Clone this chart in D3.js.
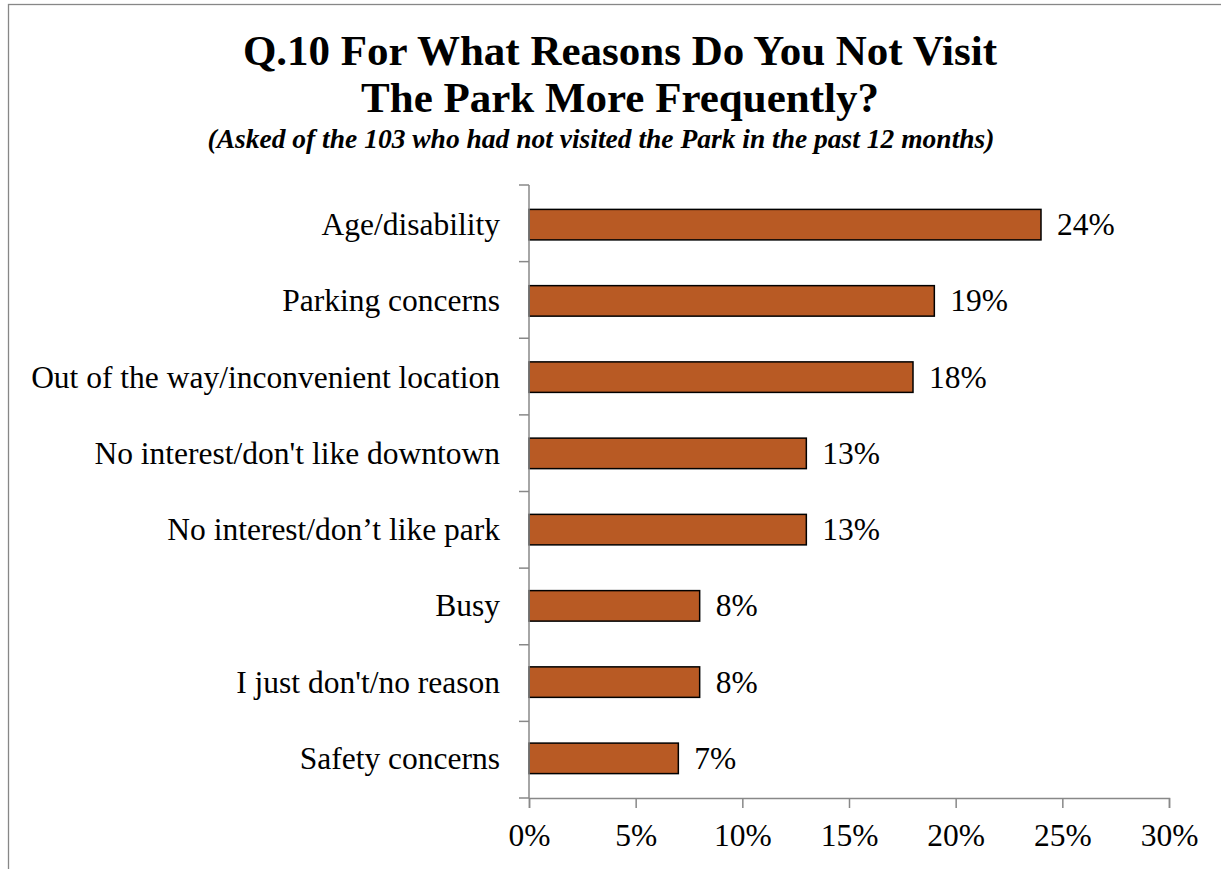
<!DOCTYPE html>
<html><head><meta charset="utf-8">
<script src="https://cdn.jsdelivr.net/npm/d3@7"></script>
<style>body{margin:0;background:#fff}svg{display:block}</style>
</head><body><svg id="c" width="1221" height="869"></svg>
<script>
const categories = ["Age/disability","Parking concerns","Out of the way/inconvenient location","No interest/don't like downtown","No interest/don\u2019t like park","Busy","I just don't/no reason","Safety concerns"];
const values = [24,19,18,13,13,8,8,7];
const xTicks = [0,5,10,15,20,25,30];
const titleLines = ["Q.10 For What Reasons Do You Not Visit","The Park More Frequently?"];
const subtitle = "(Asked of the 103 who had not visited the Park in the past 12 months)";

const svg = d3.select("#c");
const font = "'Liberation Serif','Times New Roman',serif";
svg.append("rect").attr("x",8.5).attr("y",4.5).attr("width",1230).attr("height",900)
  .attr("fill","#fff").attr("stroke","#878787").attr("stroke-width",1.3);

const x = d3.scaleLinear().domain([0,30]).range([529,1169]);
const y = d3.scaleBand().domain(categories).range([185,798]).paddingInner(0.6).paddingOuter(0.32);

svg.selectAll("text.t").data(titleLines).join("text").attr("class","t")
  .attr("x",620).attr("y",(d,i)=>65+i*47).attr("text-anchor","middle")
  .attr("font-family",font).attr("font-weight","bold").attr("font-size",43).text(d=>d);
svg.append("text").attr("x",601).attr("y",148).attr("text-anchor","middle")
  .attr("font-family",font).attr("font-weight","bold").attr("font-style","italic").attr("font-size",27.5).text(subtitle);

// bars
svg.selectAll("rect.bar").data(values).join("rect").attr("class","bar")
  .attr("x",x(0)).attr("y",(d,i)=>y(categories[i])).attr("width",d=>x(d)-x(0)).attr("height",y.bandwidth())
  .attr("fill","#B85A24").attr("stroke","#000").attr("stroke-width",1.5);
svg.selectAll("text.v").data(values).join("text").attr("class","v")
  .attr("x",d=>x(d)+16).attr("y",(d,i)=>y(categories[i])+y.bandwidth()/2+10.5)
  .attr("font-family",font).attr("font-size",31.5).text(d=>d+"%");

// y axis
const yStep = (798-185)/categories.length;
const ya = svg.append("g");
ya.append("line").attr("x1",529).attr("x2",529).attr("y1",185).attr("y2",798).attr("stroke","#888").attr("stroke-width",1.5);
ya.selectAll("line.tk").data(d3.range(categories.length+1)).join("line").attr("class","tk")
  .attr("x1",519).attr("x2",529).attr("y1",i=>185+i*yStep).attr("y2",i=>185+i*yStep).attr("stroke","#888").attr("stroke-width",1.5);
ya.selectAll("text").data(categories).join("text")
  .attr("x",500).attr("y",d=>y(d)+y.bandwidth()/2+10.5).attr("text-anchor","end")
  .attr("font-family",font).attr("font-size",31.5).text(d=>d);

// x axis
const xa = svg.append("g").attr("transform","translate(0,798)")
  .call(d3.axisBottom(x).tickValues(xTicks).tickSize(10).tickPadding(16).tickFormat(d=>d+"%"));
xa.select(".domain").attr("stroke","#888").attr("stroke-width",1.5);
xa.selectAll(".tick line").attr("stroke","#888").attr("stroke-width",1.5);
xa.selectAll(".tick text").attr("font-family",font).attr("font-size",31.5).attr("fill","#000").attr("dy",null).attr("y",48);
</script></body></html>
